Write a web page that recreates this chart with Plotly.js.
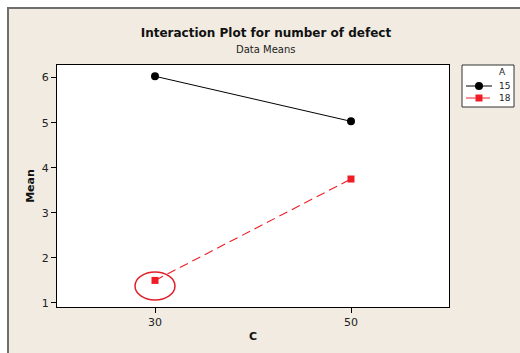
<!DOCTYPE html>
<html>
<head>
<meta charset="utf-8">
<script src="https://cdn.plot.ly/plotly-3.0.1.min.js"></script>
<style>
  html, body { margin:0; padding:0; background:#ffffff; }
  #frame { position:absolute; left:7px; top:7px; width:513px; height:346px; background:#f1ebe1;
           border-left:2px solid #6e6e6e; border-top:2px solid #6e6e6e; box-sizing:border-box; }
  #chart { position:absolute; left:0; top:0; width:520px; height:353px; }
</style>
</head>
<body>
<div id="frame"></div>
<div id="chart"></div>
<script>
const levelsC = [30, 50];
const seriesNames = ["15", "18"];
const meansA15 = [6.03, 5.03];
const meansA18 = [1.50, 3.75];
const xTicks = [30, 50];
const yTicks = [1, 2, 3, 4, 5, 6];
const legendTitle = "A";

const FONT = "DejaVu Sans, Verdana, sans-serif";
const BLACK = "#000000";
const RED = "#ee1c25";
const TEXT = "#222222";

const traces = [
  {
    x: levelsC, y: meansA15, name: seriesNames[0], type: "scatter", mode: "lines+markers",
    line: { color: BLACK, width: 1 },
    marker: { color: BLACK, symbol: "circle", size: 8 }
  },
  {
    x: levelsC, y: meansA18, name: seriesNames[1], type: "scatter", mode: "lines+markers",
    line: { color: RED, width: 1.1, dash: "9px,5px" },
    marker: { color: RED, symbol: "square", size: 7 }
  }
];

// plot area in pixels: left 57, right 449, top 65, bottom 307
const PL = 57, PW = 392, PB = 307, PH = 242;
const px = v => (v - PL) / PW;
const py = v => (PB - v) / PH;

// compact legend box (Minitab style)
const legendShapes = [
  { type: "rect", xref: "paper", yref: "paper", x0: px(462), x1: px(514), y0: py(107), y1: py(65),
    line: { color: "#333333", width: 1 }, fillcolor: "#ffffff", layer: "above" },
  { type: "line", xref: "paper", yref: "paper", x0: px(466), x1: px(492), y0: py(86), y1: py(86),
    line: { color: BLACK, width: 1 }, layer: "above" },
  { type: "circle", xref: "paper", yref: "paper", xsizemode: "pixel", ysizemode: "pixel",
    xanchor: px(479), yanchor: py(86), x0: -4, x1: 4, y0: -4, y1: 4,
    line: { color: BLACK, width: 0 }, fillcolor: BLACK, layer: "above" },
  { type: "line", xref: "paper", yref: "paper", x0: px(466), x1: px(490), y0: py(98), y1: py(98),
    line: { color: RED, width: 1 }, layer: "above" },
  { type: "rect", xref: "paper", yref: "paper", xsizemode: "pixel", ysizemode: "pixel",
    xanchor: px(479), yanchor: py(98), x0: -3.5, x1: 3.5, y0: -3.5, y1: 3.5,
    line: { color: RED, width: 0 }, fillcolor: RED, layer: "above" }
];
const legendTexts = [
  { text: legendTitle, x: px(508), y: py(72), xanchor: "right" },
  { text: seriesNames[0], x: px(497), y: py(86), xanchor: "left" },
  { text: seriesNames[1], x: px(497), y: py(98), xanchor: "left" }
].map(a => Object.assign({ xref: "paper", yref: "paper", yanchor: "middle", showarrow: false,
  font: { family: FONT, size: 9, color: TEXT } }, a));

const layout = {
  width: 520, height: 353,
  paper_bgcolor: "rgba(0,0,0,0)",
  plot_bgcolor: "#ffffff",
  margin: { l: 57, r: 71, t: 65, b: 46, pad: 0, autoexpand: false },
  font: { family: FONT, size: 11, color: TEXT },
  title: {
    text: "<b>Interaction Plot for number of defect</b>",
    font: { family: FONT, size: 12, color: "#111111" },
    xref: "paper", x: 0.533, xanchor: "center",
    yref: "container", y: 1 - 33/353, yanchor: "middle"
  },
  annotations: [
    { text: "Data Means", xref: "paper", yref: "paper", x: 0.533, y: py(49),
      xanchor: "center", yanchor: "middle", showarrow: false,
      font: { family: FONT, size: 10, color: TEXT } }
  ].concat(legendTexts),
  showlegend: false,
  xaxis: {
    range: [20, 60], tickvals: xTicks, ticktext: xTicks.map(String),
    showgrid: false, zeroline: false,
    showline: true, linecolor: BLACK, linewidth: 1, mirror: true,
    ticks: "outside", ticklen: 5, tickcolor: BLACK,
    tickfont: { family: FONT, size: 11, color: TEXT },
    title: { text: "<b>C</b>", font: { family: FONT, size: 11, color: "#111111" }, standoff: 4 }
  },
  yaxis: {
    range: [0.91, 6.28], tickvals: yTicks, ticktext: yTicks.map(String),
    showgrid: false, zeroline: false,
    showline: true, linecolor: BLACK, linewidth: 1, mirror: true,
    ticks: "outside", ticklen: 5, tickcolor: BLACK,
    tickfont: { family: FONT, size: 11, color: TEXT },
    title: { text: "<b>Mean</b>", font: { family: FONT, size: 11, color: "#111111" }, standoff: 4 }
  },
  shapes: [
    { type: "circle", xref: "x", yref: "y", x0: 27.96, x1: 32.04, y0: 1.067, y1: 1.687,
      line: { color: "#e0202a", width: 1.5 }, fillcolor: "rgba(0,0,0,0)" }
  ].concat(legendShapes)
};

Plotly.newPlot("chart", traces, layout, { displayModeBar: false, staticPlot: true });
</script>
</body>
</html>
